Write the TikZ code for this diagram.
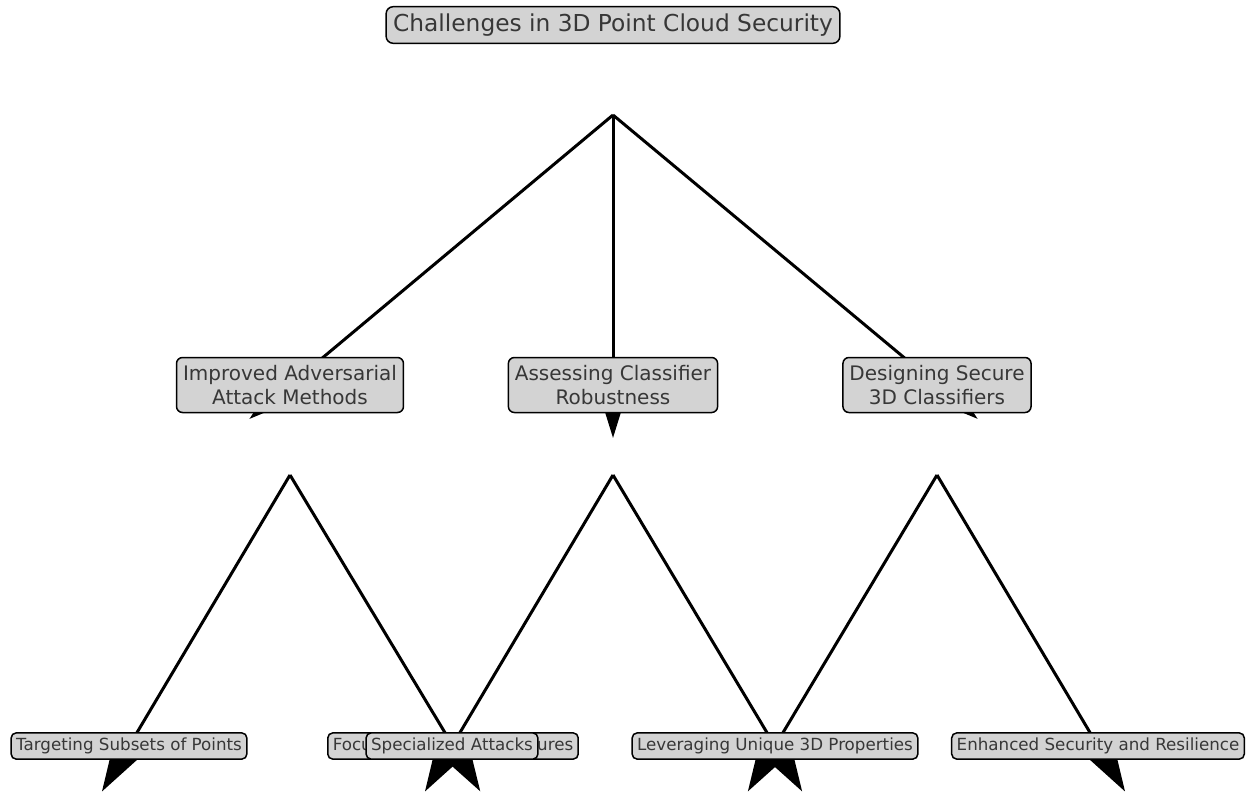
\documentclass[tikz,border=0pt]{standalone}
\usepackage{fontspec}
\setmainfont{DejaVu Sans}
\usetikzlibrary{arrows.meta,calc,backgrounds}

\definecolor{boxgray}{RGB}{211,211,211}
\definecolor{inkgray}{RGB}{55,55,55}

\begin{document}
\begin{tikzpicture}[x=1pt, y=-1pt,
  box/.style={draw=black, line width=1.5pt, fill=boxgray, text=inkgray, align=center},
  toplabel/.style={box, rounded corners=7pt, font=\fontsize{23.3}{28}\selectfont, inner sep=7pt, text height=17.7pt, text depth=4.9pt},
  midlabel/.style={box, rounded corners=6pt, font=\fontsize{20}{24}\selectfont, inner xsep=6.5pt, inner ysep=0pt, minimum height=55pt},
  leaflabel/.style={box, rounded corners=5pt, font=\fontsize{16.7}{20}\selectfont, inner sep=5pt, text height=12.7pt, text depth=3.5pt},
  link/.style={line width=3pt, line join=miter, -{Triangle[length=53pt,width=32pt]}}
]
\useasboundingbox (0,0) rectangle (1258,793);

% top
\node[toplabel] (root) at (613,25) {Challenges in 3D Point Cloud Security};

% second level
\node[midlabel] (attack) at (290,385) {Improved Adversarial\\Attack Methods};
\node[midlabel] (assess) at (613,385) {Assessing Classifier\\Robustness};
\node[midlabel] (design) at (937,385) {Designing Secure\\3D Classifiers};

% leaves
\node[leaflabel] (subsets) at (129,746) {Targeting Subsets of Points};
\node[leaflabel] (focus) at (453,746) {Focusing on Critical Features};
\node[leaflabel] (special) at (452,746) {Specialized Attacks};
\node[leaflabel] (leverage) at (775,746) {Leveraging Unique 3D Properties};
\node[leaflabel] (enhance) at (1098,746) {Enhanced Security and Resilience};

% arrows start 90 below each parent
\foreach \n in {root, attack, assess, design}
  \coordinate (\n-s) at ($(\n)+(0,90)$);

\begin{scope}[on background layer]
\foreach \p/\c in {root/attack, root/assess, root/design, attack/subsets, attack/focus,
                   assess/special, assess/leverage, design/leverage, design/enhance}
  \draw[link] (\p-s) -- ($(\c)!-53pt!(\p-s)$);
\end{scope}
\end{tikzpicture}
\end{document}
